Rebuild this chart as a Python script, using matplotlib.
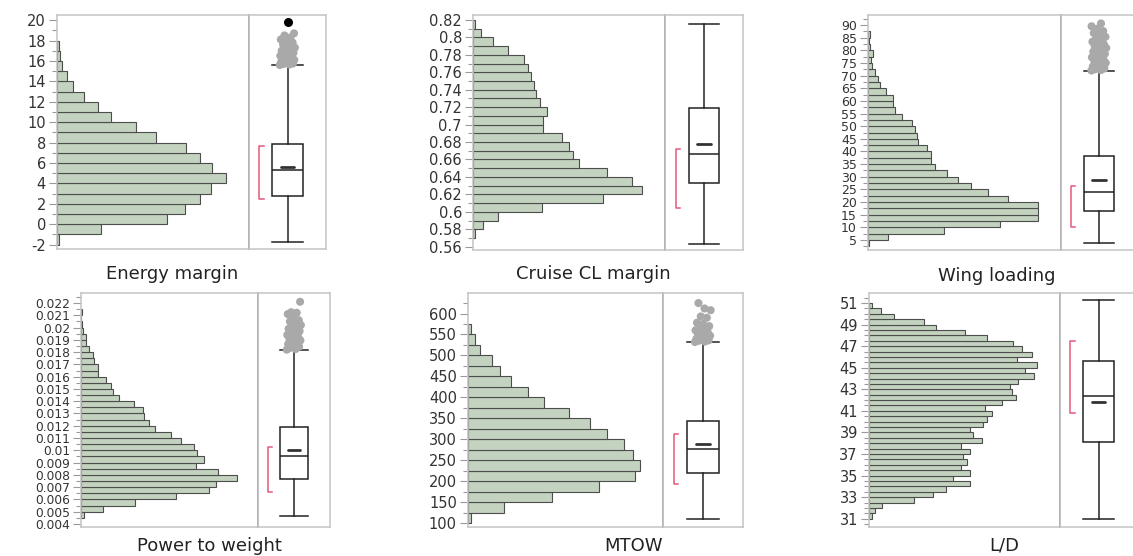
import numpy as np
import matplotlib
matplotlib.use("Agg")
import matplotlib.pyplot as plt
from matplotlib.ticker import MultipleLocator, FormatStrFormatter

# ---- data (bar lengths are relative counts) ----
energy_start, energy_bin = -2.0, 1.0
energy_counts = [5, 132, 329, 384, 429, 459, 505, 464, 429, 387, 297, 237,
                 162, 122, 82, 49, 30, 14, 10, 7]
energy_box = dict(whislo=-1.73, q1=2.77, med=5.27, q3=7.9, whishi=15.57)
energy_mean = 5.57
energy_short = (2.5, 7.63)
energy_out = [15.6, 15.65, 15.7, 15.75, 15.8, 15.9, 16.0, 16.05, 16.1, 16.2,
              16.3, 16.35, 16.4, 16.5, 16.6, 16.7, 16.8, 16.9, 17.0, 17.1, 17.2,
              17.3, 17.5, 17.6, 17.8, 17.9, 18.1, 18.3, 18.5, 18.7]
energy_max = [19.8]

cruise_start, cruise_bin = 0.57, 0.01
cruise_counts = [5, 30, 75, 207, 388, 505, 475, 400, 318, 300, 287, 268, 210,
                 210, 223, 202, 190, 182, 175, 165, 152, 105, 60, 25, 5]
cruise_box = dict(whislo=0.5631, q1=0.6328, med=0.6668, q3=0.7187, whishi=0.8154)
cruise_mean = 0.6779
cruise_short = (0.6047, 0.6717)
cruise_out = []

wing_start, wing_bin = 2.5, 2.5
wing_counts = [2, 59, 227, 392, 505, 505, 505, 417, 357, 307, 269, 235, 200,
               187, 187, 175, 149, 145, 139, 132, 100, 79, 74, 74, 55, 35, 29,
               22, 12, 9, 14, 5, 2, 5]
wing_box = dict(whislo=3.95, q1=16.4, med=23.9, q3=38.4, whishi=71.8)
wing_mean = 28.7
wing_short = (10.3, 26.4)
wing_out = [72.0, 72.2, 72.5, 72.8, 73.2, 73.6, 74.1, 74.5, 75.0, 75.4, 75.9,
            76.3, 76.8, 77.2, 77.7, 78.1, 78.6, 79.0, 79.5, 80.0, 80.4, 80.9,
            81.3, 81.8, 82.3, 82.8, 83.4, 84.0, 84.6, 85.3, 86.0, 86.8, 87.6,
            88.5, 89.5, 90.6]

ptw_start, ptw_bin = 0.0045, 0.0005
ptw_counts = [10, 65, 162, 285, 382, 405, 466, 410, 345, 367, 348, 338, 298,
              270, 222, 203, 188, 185, 158, 115, 97, 90, 75, 50, 50, 40, 35,
              23, 15, 15, 5, 3, 0, 3]
ptw_box = dict(whislo=0.00463, q1=0.00765, med=0.0095, q3=0.01186, whishi=0.01814)
ptw_mean = 0.01004
ptw_short = (0.00658, 0.01028)
ptw_out = [0.01820, 0.01825, 0.01835, 0.01845, 0.01855, 0.01865, 0.01875,
           0.01885, 0.01895, 0.0190, 0.0191, 0.0192, 0.0193, 0.0194, 0.0195,
           0.0196, 0.0197, 0.0198, 0.0199, 0.0200, 0.0201, 0.0202, 0.0203,
           0.0205, 0.0206, 0.0208, 0.0211, 0.0212, 0.02125, 0.0221]

mtow_start, mtow_bin = 100, 25
mtow_counts = [10, 108, 252, 392, 498, 515, 492, 466, 416, 365, 303, 226, 180,
               128, 97, 71, 35, 20, 10]
mtow_box = dict(whislo=110.4, q1=219.4, med=276, q3=342.8, whishi=531.5)
mtow_mean = 289.5
mtow_short = (192.4, 312.6)
mtow_out = [532, 533, 535, 536, 538, 540, 542, 545, 547, 550, 552, 555, 557,
            560, 563, 566, 570, 575, 578, 590, 593, 608, 612, 625]

ld_start, ld_bin = 31.0, 0.5
ld_counts = [9, 19, 39, 135, 192, 232, 302, 252, 302, 277, 292, 282, 302, 277,
             337, 312, 302, 342, 352, 369, 347, 397, 439, 427, 422, 447, 495,
             467, 504, 442, 487, 457, 432, 352, 287, 200, 165, 75, 35, 9]
ld_box = dict(whislo=30.94, q1=38.11, med=42.37, q3=45.59, whishi=51.31)
ld_mean = 41.82
ld_short = (40.8, 47.45)
ld_out = []

titles = ["Energy margin", "Cruise CL margin", "Wing loading",
          "Power to weight", "MTOW", "L/D"]

W, H = 1133, 556
fig = plt.figure(figsize=(W / 100, H / 100), dpi=100)

BAR = "#c3d3bf"
FRAME = "#c4c4c4"


def rect(x0, x1, y0, y1):
    return [x0 / W, 1 - y1 / H, (x1 - x0) / W, (y1 - y0) / H]


def panel(px, py, start, binw, counts, xmax, box, mean, short, outs,
          ylim, major, minor, offset=0.0, lsize=10.5):
    x0, xd, x1 = px
    y0, y1 = py
    ah = fig.add_axes(rect(x0, xd, y0, y1))
    ab = fig.add_axes(rect(xd, x1, y0, y1), sharey=ah)
    edges = start + binw * np.arange(len(counts))
    ah.barh(edges, counts, height=binw, align="edge", color=BAR,
            edgecolor="#4d4d4d", linewidth=0.8)
    ah.set_xlim(0, xmax)
    ah.set_ylim(*ylim)
    ah.set_xticks([])
    ah.yaxis.set_major_locator(MultipleLocator(major, offset=offset))
    ah.yaxis.set_minor_locator(MultipleLocator(minor))
    ah.yaxis.set_major_formatter(FormatStrFormatter("%g"))
    ah.tick_params(axis="y", which="major", length=6, width=0.8, color="#9a9a9a",
                   labelsize=lsize, labelcolor="#333333", pad=2)
    ah.tick_params(axis="y", which="minor", length=3.5, width=0.8, color="#9a9a9a")
    for s in ah.spines.values():
        s.set_color(FRAME)
        s.set_linewidth(1.1)
    ah.spines["right"].set_color("#b0b0b0")

    st = dict(box, fliers=[])
    ab.bxp([st], positions=[0.5], widths=0.39, capwidths=0.39, showfliers=False,
           patch_artist=True,
           boxprops=dict(facecolor="white", edgecolor="#222222", linewidth=1.1),
           whiskerprops=dict(color="#222222", linewidth=1.1),
           capprops=dict(color="#222222", linewidth=1.1),
           medianprops=dict(color="#222222", linewidth=1.1))
    ab.hlines(mean, 0.41, 0.59, color="#333333", linewidth=2.0,
              capstyle="round")
    ab.plot([0.19, 0.135, 0.135, 0.19], [short[0], short[0], short[1], short[1]],
            color="#e4587c", linewidth=1.1)
    if outs:
        jit = [((i * 0.618) % 1 - 0.5) * 0.2 for i in range(len(outs))]
        ab.scatter(0.5 + np.array(jit), outs, s=34, color="#a9a9a9",
                   edgecolors="none", zorder=3)
    ab.set_xlim(0, 1)
    ab.set_xticks([])
    ab.tick_params(axis="y", left=False, labelleft=False, which="both")
    for s in ab.spines.values():
        s.set_color(FRAME)
        s.set_linewidth(1.1)
    ab.spines["left"].set_color("#b0b0b0")
    return ab


ab1 = panel((57, 249, 326), (15, 249), energy_start, energy_bin, energy_counts,
            574, energy_box, energy_mean, energy_short, energy_out,
            (-2.43, 20.5), 2, 1)
ab1.scatter([0.5], energy_max, s=30, color="black", zorder=4)

panel((473, 665, 743), (15, 250), cruise_start, cruise_bin, cruise_counts,
      575, cruise_box, cruise_mean, cruise_short, cruise_out,
      (0.5562, 0.8257), 0.02, 0.01)

panel((868, 1061, 1137), (15, 250), wing_start, wing_bin, wing_counts,
      574, wing_box, wing_mean, wing_short, wing_out,
      (1.05, 93.95), 5, 2.5, lsize=9)

panel((81, 258, 330), (293, 527), ptw_start, ptw_bin, ptw_counts,
      530, ptw_box, ptw_mean, ptw_short, ptw_out,
      (0.003755, 0.022815), 0.001, 0.0005, lsize=8.8)

panel((468, 663, 743), (293, 527), mtow_start, mtow_bin, mtow_counts,
      583, mtow_box, mtow_mean, mtow_short, mtow_out,
      (90.4, 649), 50, 25)

panel((869, 1060, 1137), (293, 527), ld_start, ld_bin, ld_counts,
      572, ld_box, ld_mean, ld_short, ld_out,
      (30.23, 51.93), 2, 0.5, offset=1)

label_pos = [(172, 274), (593, 274), (997, 276), (209, 546), (634, 546), (1004, 546)]
for t, (x, y) in zip(titles, label_pos):
    fig.text(x / W, 1 - y / H, t, ha="center", va="center", fontsize=13,
             color="#222222")

fig.savefig("out.png", dpi=100)
